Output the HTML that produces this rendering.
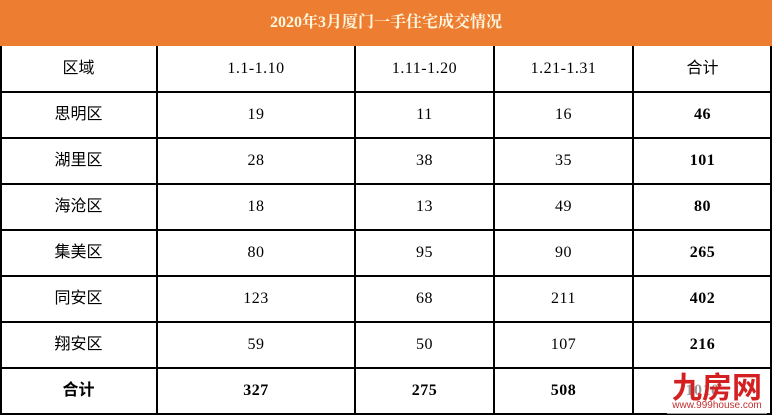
<!DOCTYPE html><html><head><meta charset="utf-8"><style>
body{margin:0;width:772px;height:415px;background:#fff;position:relative;overflow:hidden;font-family:"Liberation Serif","Noto Serif CJK SC",serif;}
.h{position:absolute;left:0;top:0;width:772px;height:46px;background:#ed7d31;color:#fff8e0;font-weight:bold;font-size:16px;line-height:46px;text-align:center;}
.hl{position:absolute;left:0;width:772px;height:1.5px;background:#000}
.vl{position:absolute;top:46px;height:369px;width:1.5px;background:#000}
.c{position:absolute;height:46px;line-height:46px;text-align:center;font-size:16px;color:#000;letter-spacing:0.5px}
.b{font-weight:bold}
.k{font-family:"Liberation Sans","Noto Sans CJK SC",sans-serif;letter-spacing:0}
</style></head><body>
<div class="h">2020年3月厦门一手住宅成交情况</div>
<div class="hl" style="top:91px"></div><div class="hl" style="top:137px"></div><div class="hl" style="top:183px"></div><div class="hl" style="top:229px"></div><div class="hl" style="top:275px"></div><div class="hl" style="top:321px"></div><div class="hl" style="top:367px"></div><div class="hl" style="top:413px"></div>
<div class="vl" style="left:0"></div><div class="vl" style="left:156px"></div><div class="vl" style="left:354px"></div><div class="vl" style="left:493px"></div><div class="vl" style="left:632px"></div><div class="vl" style="left:770px"></div>
<div id="t"></div>
<script>
var rows=[["区域","1.1-1.10","1.11-1.20","1.21-1.31","合计"],["思明区","19","11","16","46"],["湖里区","28","38","35","101"],["海沧区","18","13","49","80"],["集美区","80","95","90","265"],["同安区","123","68","211","402"],["翔安区","59","50","107","216"],["合计","327","275","508","1010"]];
var xs=[0,157,355,494,633,772],h="";
rows.forEach(function(r,i){r.forEach(function(v,j){var cls="c";if(j==0)cls+=" k";if(i>0&&(j==4||i==7))cls+=" b";if(i==0&&j==4)cls+=" k";
h+='<div class="'+cls+'" style="top:'+(46+i*46)+'px;left:'+xs[j]+'px;width:'+(xs[j+1]-xs[j])+'px">'+v+'</div>';});});
document.getElementById('t').innerHTML=h;
</script>
<div style="position:absolute;left:667px;top:370px;width:100px;height:44px;background:rgba(255,255,255,0.6)">
<div style="color:#d42020;font-size:30px;font-weight:bold;line-height:30px;text-align:center;font-family:'Noto Sans CJK SC',sans-serif">九房网</div>
<div style="color:#c03030;font-size:10px;text-align:center;font-family:'Liberation Sans',sans-serif">www.999house.com</div></div>
</body></html>
